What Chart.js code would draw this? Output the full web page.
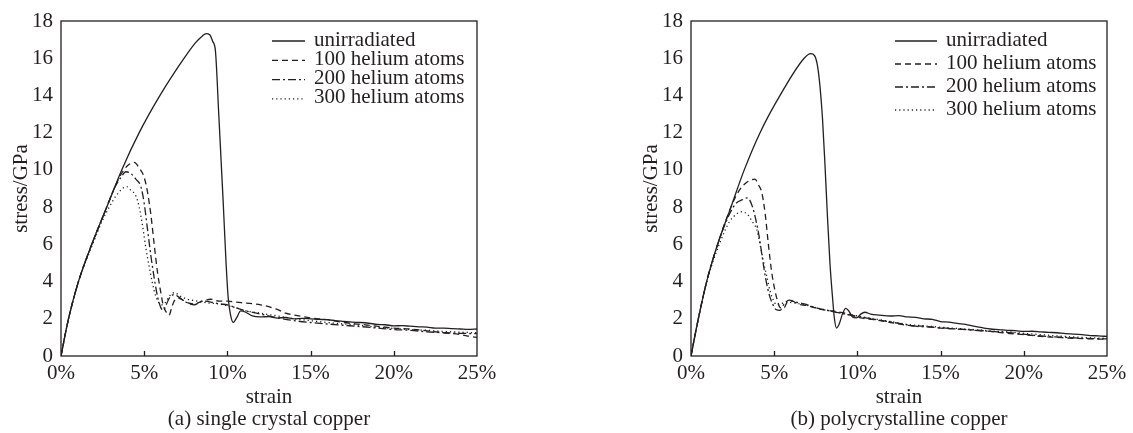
<!DOCTYPE html>
<html>
<head>
<meta charset="utf-8">
<script src="https://cdn.jsdelivr.net/npm/chart.js@4"></script>
<style>
  html, body { margin: 0; padding: 0; background: #fff; }
  canvas { position: absolute; top: 0; }
</style>
</head>
<body>
<canvas id="chartA" width="566" height="433" style="left:0"></canvas>
<canvas id="chartB" width="567" height="433" style="left:566px"></canvas>
<script>
// series labels (same for both panels)
const seriesNames = ['unirradiated', '100 helium atoms', '200 helium atoms', '300 helium atoms'];
const strainTicks = [0, 5, 10, 15, 20, 25];   // %
const stressMax = 18;                          // GPa

// (a) single crystal copper  -- [strain %, stress GPa]
const singleUnirradiated = [[0,0],[0.45,2],[1.05,4],[1.85,6],[2.75,8],[3.65,10],[4.7,12],[5.95,14],[7.4,16],[8.1,16.85],[8.5,17.2],[8.72,17.32],[8.95,17.25],[9.12,16.9],[9.28,16.4],[9.48,13],[9.74,8.4],[9.92,5],[10.05,3.1],[10.2,2.15],[10.35,1.8],[10.55,2.05],[10.8,2.42],[11.1,2.35],[11.5,2.15],[12,2.1],[12.5,2.12],[13,2.04],[13.5,2.07],[14,2.0],[14.5,2.02],[15,2.0],[15.5,1.97],[16,1.95],[16.5,1.9],[17,1.86],[17.5,1.82],[18,1.8],[18.5,1.76],[19,1.7],[19.5,1.68],[20,1.62],[20.5,1.63],[21,1.6],[21.5,1.57],[22,1.55],[22.5,1.5],[23,1.5],[23.5,1.47],[24,1.45],[24.5,1.43],[25,1.45]];
const single100 = [[0,0],[0.45,2],[1.05,4],[1.85,6],[2.75,8],[3.3,9.2],[3.7,9.9],[4.1,10.3],[4.4,10.4],[4.7,10.1],[5.0,9.6],[5.2,8.8],[5.4,7.6],[5.6,6.0],[5.8,4.5],[6.0,3.4],[6.15,2.7],[6.3,2.4],[6.5,2.2],[6.65,2.6],[6.8,2.95],[7.1,3.1],[7.5,2.9],[8.0,2.8],[8.5,2.95],[9.0,3.05],[9.5,2.95],[10,2.95],[10.5,2.9],[11,2.85],[12,2.75],[13,2.5],[13.5,2.3],[14,2.2],[15,2.05],[16,1.95],[17,1.8],[18,1.7],[19,1.6],[20,1.5],[21,1.45],[22,1.35],[23,1.25],[24,1.15],[24.6,1.05],[25,1.0]];
const single200 = [[0,0],[0.45,2],[1.05,4],[1.85,6],[2.75,8],[3.2,9.0],[3.6,9.6],[3.9,9.9],[4.2,9.8],[4.5,9.5],[4.8,9.1],[5.0,8.2],[5.2,6.8],[5.4,5.4],[5.6,4.2],[5.8,3.2],[6.0,2.6],[6.15,2.45],[6.3,2.7],[6.5,3.1],[6.8,3.3],[7.1,3.15],[7.5,2.9],[8.0,2.75],[8.5,2.95],[9,2.9],[9.5,2.8],[10,2.75],[10.5,2.6],[11,2.45],[12,2.25],[13,2.05],[14,1.9],[15,1.8],[16,1.72],[17,1.65],[18,1.58],[19,1.5],[20,1.42],[21,1.38],[22,1.3],[23,1.25],[24,1.22],[25,1.2]];
const single300 = [[0,0],[0.45,2],[1.05,4],[1.9,6],[2.5,7.3],[2.9,8.0],[3.3,8.6],[3.7,9.0],[3.95,9.1],[4.2,8.9],[4.5,8.6],[4.7,8.0],[4.9,7.0],[5.1,5.8],[5.3,4.8],[5.5,3.9],[5.7,3.2],[5.9,2.85],[6.1,2.75],[6.3,2.9],[6.5,3.2],[6.8,3.4],[7.2,3.2],[7.6,3.05],[8.2,2.95],[8.8,2.85],[9.5,2.8],[10,2.7],[10.5,2.6],[11,2.45],[12,2.3],[13,2.15],[14,2.0],[15,1.9],[16,1.8],[17,1.72],[18,1.65],[19,1.55],[20,1.48],[21,1.42],[22,1.38],[23,1.32],[24,1.28],[25,1.25]];

// (b) polycrystalline copper
const polyUnirradiated = [[0,0],[0.44,2],[0.94,4],[1.6,6],[2.4,8],[3.2,10],[4.15,12],[5.35,14],[6.8,16],[7.2,16.25],[7.45,16.1],[7.6,15.6],[7.75,14.5],[7.9,12.8],[8.05,10.3],[8.2,7.5],[8.35,5.0],[8.5,3.2],[8.62,2.0],[8.75,1.5],[8.9,1.7],[9.1,2.25],[9.3,2.56],[9.5,2.4],[9.7,2.1],[9.95,2.05],[10.2,2.25],[10.45,2.35],[10.8,2.25],[11.3,2.2],[12,2.15],[12.5,2.17],[13,2.1],[13.5,2.08],[14,2.0],[14.5,1.97],[15,1.85],[15.5,1.82],[16,1.75],[16.5,1.7],[17,1.6],[17.5,1.52],[18,1.45],[18.5,1.42],[19,1.38],[19.5,1.36],[20,1.32],[20.5,1.33],[21,1.3],[21.5,1.27],[22,1.25],[22.5,1.2],[23,1.18],[23.5,1.15],[24,1.1],[24.5,1.08],[25,1.05]];
const poly100 = [[0,0],[0.44,2],[0.94,4],[1.6,6],[2.4,8],[2.9,8.9],[3.3,9.3],[3.6,9.45],[3.85,9.5],[4.05,9.2],[4.25,8.8],[4.45,7.7],[4.65,6.0],[4.85,4.5],[5.05,3.5],[5.2,2.95],[5.35,2.6],[5.55,2.55],[5.8,2.9],[6.1,2.95],[6.4,2.8],[7.0,2.7],[7.6,2.55],[8.2,2.45],[8.8,2.38],[9.5,2.25],[10.2,2.05],[11,1.95],[12,1.8],[13,1.65],[14,1.6],[15,1.5],[16,1.45],[17,1.4],[18,1.32],[19,1.22],[20,1.15],[21,1.05],[22,1.0],[23,0.95],[24,0.92],[25,0.9]];
const poly200 = [[0,0],[0.44,2],[0.94,4],[1.6,6],[2.3,7.6],[2.7,8.2],[3.1,8.4],[3.4,8.5],[3.7,8.0],[3.9,7.3],[4.1,6.4],[4.3,5.2],[4.5,4.1],[4.7,3.3],[4.9,2.8],[5.1,2.5],[5.35,2.45],[5.6,2.8],[5.9,3.0],[6.3,2.9],[6.8,2.8],[7.5,2.6],[8.2,2.45],[9,2.3],[9.8,2.15],[10.5,2.05],[11.5,1.9],[12.5,1.75],[13.5,1.6],[14.5,1.55],[15.5,1.48],[16.5,1.42],[17.5,1.35],[18.5,1.3],[19.5,1.22],[20.5,1.12],[21.5,1.05],[22.5,1.0],[23.5,0.95],[25,0.92]];
const poly300 = [[0,0],[0.44,2],[0.95,4],[1.7,6],[2.3,7.2],[2.7,7.6],[3.05,7.75],[3.4,7.6],[3.7,7.2],[3.95,6.8],[4.15,6.0],[4.35,5.1],[4.55,4.3],[4.75,3.5],[4.95,3.0],[5.15,2.75],[5.4,2.8],[5.7,2.9],[6.2,2.85],[6.8,2.75],[7.5,2.6],[8.2,2.45],[9,2.3],[10,2.15],[11,2.0],[12,1.85],[13,1.7],[14,1.62],[15,1.55],[16,1.48],[17,1.42],[18,1.35],[19,1.3],[20,1.22],[21,1.15],[22,1.08],[23,1.02],[24,0.98],[25,0.95]];

const ink = '#231f20';
const serif = '"Liberation Serif", "Times New Roman", serif';
const dashes = [[], [6, 4], [8, 3, 2, 3], [1.2, 3]];

Chart.defaults.font.family = serif;
Chart.defaults.color = ink;

// box around the plot, inward ticks on x and the legend inside the plot
const paperPlugin = {
    id: 'paper',
    afterDraw(chart, args, opts) {
        const ctx = chart.ctx;
        const a = chart.chartArea;
        const xs = chart.scales.x;
        ctx.save();
        ctx.strokeStyle = ink;
        ctx.lineWidth = 1.3;
        ctx.strokeRect(a.left, a.top, a.right - a.left, a.bottom - a.top);
        strainTicks.slice(1, -1).forEach(v => {
            const px = Math.round(xs.getPixelForValue(v)) + 0.5;
            ctx.beginPath();
            ctx.moveTo(px, a.bottom);
            ctx.lineTo(px, a.bottom - 5);
            ctx.stroke();
        });
        chart.data.datasets.forEach((ds, i) => {
            const y = opts.y + i * opts.row;
            ctx.save();
            ctx.setLineDash(ds.borderDash);
            ctx.lineWidth = ds.borderWidth;
            ctx.beginPath();
            ctx.moveTo(opts.x, y + 1);
            ctx.lineTo(opts.x + opts.sample, y + 1);
            ctx.stroke();
            ctx.restore();
            ctx.fillStyle = ink;
            ctx.font = '21px ' + serif;
            ctx.textBaseline = 'middle';
            ctx.textAlign = 'left';
            ctx.fillText(ds.label, opts.x + opts.sample + opts.gap, y);
        });
        ctx.restore();
    }
};

function makeChart(id, curves, caption, pad, legend) {
    const datasets = curves.map((pts, i) => ({
        label: seriesNames[i],
        data: pts.map(p => ({x: p[0], y: p[1]})),
        borderColor: ink,
        borderWidth: 1.3,
        borderDash: dashes[i],
        pointRadius: 0,
        fill: false,
        cubicInterpolationMode: 'monotone'
    }));
    return new Chart(document.getElementById(id), {
        type: 'line',
        data: { datasets: datasets },
        options: {
            responsive: false,
            animation: false,
            layout: { padding: pad },
            plugins: {
                legend: { display: false },
                tooltip: { enabled: false },
                paper: legend
            },
            scales: {
                x: {
                    type: 'linear',
                    min: 0,
                    max: 25,
                    grid: { display: false, drawTicks: false },
                    border: { display: false },
                    ticks: {
                        stepSize: 5,
                        padding: 5,
                        font: { size: 21 },
                        callback: v => v + '%'
                    },
                    title: {
                        display: true,
                        text: ['strain', caption],
                        font: { size: 21, lineHeight: 1.05 },
                        padding: { top: 0, bottom: 2 }
                    },
                    afterFit: s => { s.height = 77; }
                },
                y: {
                    min: 0,
                    max: stressMax,
                    grid: { display: false, drawTicks: false },
                    border: { display: false },
                    ticks: { stepSize: 2, padding: 8, font: { size: 21 } },
                    title: {
                        display: true,
                        text: 'stress/GPa',
                        font: { size: 21, lineHeight: 1.2 },
                        padding: { top: 9, bottom: 0 }
                    },
                    afterFit: s => { s.width = 61; }
                }
            }
        },
        plugins: [paperPlugin]
    });
}

makeChart('chartA', [singleUnirradiated, single100, single200, single300],
    '(a) single crystal copper',
    { top: 21, left: 0, right: 89, bottom: 0 },
    { x: 272, y: 40, row: 19.3, sample: 33, gap: 9 });

makeChart('chartB', [polyUnirradiated, poly100, poly200, poly300],
    '(b) polycrystalline copper',
    { top: 21, left: 64, right: 26, bottom: 0 },
    { x: 329, y: 40, row: 23, sample: 42, gap: 9 });
</script>
</body>
</html>
